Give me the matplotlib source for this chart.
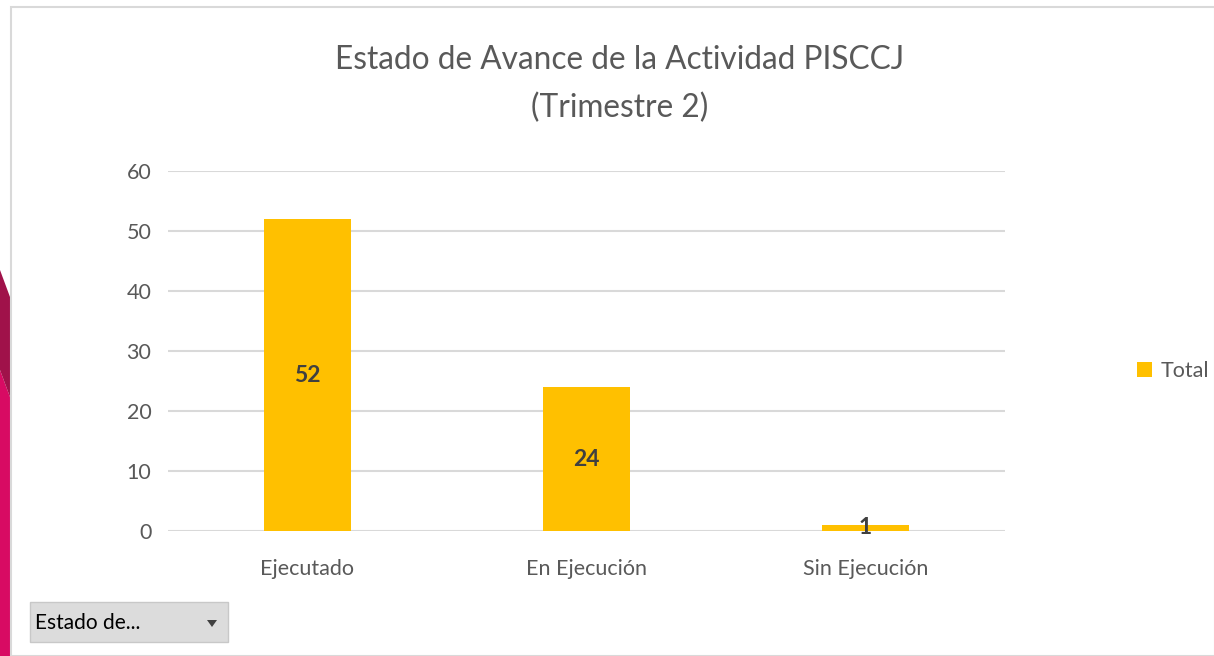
import matplotlib.pyplot as plt
import matplotlib.patches as mpatches

# data
categories = ['Ejecutado', 'En Ejecución', 'Sin Ejecución']
totals = [52, 24, 1]
yticks = [0, 10, 20, 30, 40, 50, 60]

plt.rcParams['font.family'] = ['Lato', 'DejaVu Sans']

W, H = 1214, 656
fig = plt.figure(figsize=(W / 100, H / 100), dpi=100)


def px(x, y):
    # pixel coords (top-left origin) -> figure fraction
    return (x / W, 1 - y / H)


# decorative shape on the left
fig.add_artist(mpatches.Polygon([px(0, 370), px(10, 397), px(10, 656), px(0, 656)],
                                closed=True, transform=fig.transFigure,
                                facecolor='#d80b63', edgecolor='none'))
fig.add_artist(mpatches.Polygon([px(0, 270), px(10, 297), px(10, 397), px(0, 370)],
                                closed=True, transform=fig.transFigure,
                                facecolor='#a0124a', edgecolor='none'))

# chart border
fig.add_artist(mpatches.Rectangle(px(10.5, 656), (W - 10) / W, (656 - 6.5) / H,
                                  transform=fig.transFigure, fill=False,
                                  edgecolor='#d9d9d9', linewidth=1.5))

ax = fig.add_axes([168 / W, 1 - 531 / H, (1005 - 168) / W, (531 - 171) / H])
x = range(len(categories))
bars = ax.bar(x, totals, width=0.31, color='#ffc000', label='Total', zorder=3)

ax.set_xlim(-0.5, 2.5)
ax.set_ylim(0, 60)
ax.set_yticks(yticks)
ax.set_xticks(list(x))
ax.set_xticklabels(categories)
ax.grid(axis='y', color='#d9d9d9', linewidth=1.5, zorder=0)
ax.tick_params(axis='both', length=0, labelsize=15.5, colors='#595959', pad=12)
ax.tick_params(axis='x', pad=20)
for s in ax.spines.values():
    s.set_visible(False)

for b, v in zip(bars, totals):
    ax.text(b.get_x() + b.get_width() / 2, v / 2, str(v), ha='center', va='center',
            fontsize=16.5, fontweight='bold', color='#404040', zorder=4)

fig.text(620 / W, 1 - 60 / H, 'Estado de Avance de la Actividad PISCCJ', ha='center',
         va='center', fontsize=22.8, color='#595959')
fig.text(620 / W, 1 - 108 / H, '(Trimestre 2)', ha='center', va='center',
         fontsize=22.8, color='#595959')

ax.legend(loc='center left', bbox_to_anchor=(1137 / W, 1 - 371 / H),
          bbox_transform=fig.transFigure, frameon=False, fontsize=15.5,
          labelcolor='#595959', handlelength=0.7, handleheight=0.7,
          handletextpad=0.4, borderaxespad=0, borderpad=0)

# dropdown button
fig.add_artist(mpatches.Rectangle(px(30, 642), 198 / W, 40 / H,
                                  transform=fig.transFigure, facecolor='#dcdcdc',
                                  edgecolor='#c8c8c8', linewidth=1))
fig.text(35 / W, 1 - 623 / H, 'Estado de...', ha='left', va='center',
         fontsize=15, color='#000000')
fig.add_artist(mpatches.Polygon([px(207, 620), px(217, 620), px(212, 627)],
                                closed=True, transform=fig.transFigure,
                                facecolor='#404040', edgecolor='none'))

fig.savefig('out.png', dpi=100)
